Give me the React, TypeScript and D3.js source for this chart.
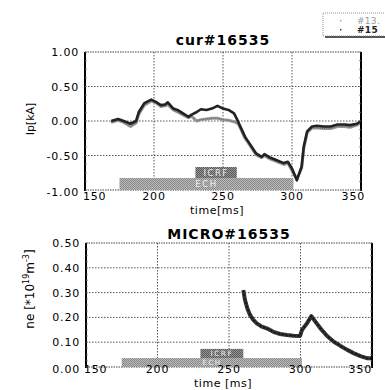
import * as d3 from 'd3';

// plasma current, two shots
const timeCur = [169, 174, 178, 183, 187, 189, 193, 198, 201, 205, 208, 210, 214, 217, 221, 225, 227, 231, 234, 238, 242, 246, 250, 254, 258, 261, 263, 266, 270, 274, 278, 280, 284, 289, 294, 297, 300, 303.5, 307, 308.5, 311, 314.5, 318, 323, 328, 333, 338, 342, 347, 350];
const ip15 = [0.0, 0.03, 0.0, -0.04, 0.0, 0.13, 0.26, 0.31, 0.28, 0.23, 0.24, 0.27, 0.18, 0.16, 0.11, 0.06, 0.09, 0.13, 0.17, 0.16, 0.18, 0.22, 0.18, 0.16, 0.11, -0.01, -0.1, -0.23, -0.35, -0.47, -0.52, -0.48, -0.53, -0.57, -0.61, -0.59, -0.69, -0.86, -0.66, -0.37, -0.15, -0.08, -0.07, -0.08, -0.08, -0.05, -0.05, -0.06, -0.04, 0.0];
const ip13 = [-0.02, 0.01, -0.02, -0.08, -0.03, 0.1, 0.23, 0.29, 0.27, 0.21, 0.22, 0.24, 0.16, 0.13, 0.09, 0.05, 0.07, 0.0, 0.02, 0.03, 0.04, 0.04, 0.02, 0.01, -0.01, -0.04, -0.12, -0.25, -0.37, -0.49, -0.53, -0.5, -0.55, -0.59, -0.63, -0.61, -0.72, -0.84, -0.68, -0.4, -0.17, -0.1, -0.1, -0.11, -0.11, -0.08, -0.08, -0.09, -0.06, -0.02];

// microwave density
const timeNe = [260, 261.2, 262.8, 264.7, 267, 269.4, 272.9, 276.4, 281, 285.8, 290.4, 295, 299.7, 301, 304.5, 307.6, 310.4, 313.9, 318.6, 323.3, 328, 332.7, 337.4, 342, 346.8, 349.6];
const ne = [0.31, 0.27, 0.237, 0.21, 0.19, 0.176, 0.163, 0.156, 0.142, 0.133, 0.129, 0.126, 0.125, 0.149, 0.176, 0.205, 0.183, 0.156, 0.125, 0.102, 0.085, 0.069, 0.055, 0.044, 0.035, 0.035];

// heating windows
const heatNames = ['ECH', 'ICRF'];
const heatStart = [175, 230];
const heatEnd = [301, 260];
const heatCurLow = [-1.0, -0.826];
const heatCurHigh = [-0.826, -0.667];
const heatNeLow = [0.0, 0.036];
const heatNeHigh = [0.036, 0.073];

const timeTicks = [150, 200, 250, 300, 350];
const curTicks = [1.0, 0.5, 0.0, -0.5, -1.0];
const neTicks = [0.5, 0.4, 0.3, 0.2, 0.1, 0.0];

const legendNames = ['#13.', '#15'];

const FONT = 'DejaVu Sans, Verdana, sans-serif';

type PanelProps = {
  x: d3.ScaleLinear<number, number>;
  y: d3.ScaleLinear<number, number>;
  yTicks: number[];
  title: string;
  titleY: number;
  xLabel: string;
  xLabelY: number;
  xLabelSize: number;
  tickY: number;
  yLabel: React.ReactNode;
  lastTickShift: number;
  bars: { name: string; t0: number; t1: number; lo: number; hi: number }[];
  children?: React.ReactNode;
};

function Panel({ x, y, yTicks, title, titleY, xLabel, xLabelY, xLabelSize, tickY, yLabel, lastTickShift, bars, children }: PanelProps) {
  const [x0, x1] = x.range();
  const [y0, y1] = y.range();
  const mid = (x0 + x1) / 2;
  const minor = d3.range(yTicks.length * 4).map((i) => y1 + ((y0 - y1) * i) / ((yTicks.length - 1) * 4)).filter((v) => v <= y0);
  return (
    <g>
      <text x={mid} y={titleY} textAnchor="middle" fontFamily={FONT} fontWeight="bold" fontSize={14} letterSpacing={1}>{title}</text>
      {/* grid */}
      {timeTicks.slice(1, -1).map((t) => (
        <line key={'gx' + t} x1={x(t)} x2={x(t)} y1={y1} y2={y0} stroke="#555" strokeWidth={1} strokeDasharray="1.5,1.5" />
      ))}
      {yTicks.slice(1, -1).map((v) => (
        <line key={'gy' + v} x1={x0} x2={x1} y1={y(v)} y2={y(v)} stroke="#555" strokeWidth={1} strokeDasharray="1.5,1.5" />
      ))}
      <line x1={x0} x2={x1} y1={y1} y2={y1} stroke="#444" strokeWidth={1.2} strokeDasharray="1.5,1" />
      <line x1={x0} x2={x1} y1={y0} y2={y0} stroke="#444" strokeWidth={1.2} strokeDasharray="1.5,1" />
      {/* heating bars */}
      {bars.map((b) => {
        const h = y(b.lo) - y(b.hi);
        const fs = Math.min(8.5, h * 0.8);
        return (
          <g key={b.name}>
            <rect x={x(b.t0)} y={y(b.hi)} width={x(b.t1) - x(b.t0)} height={h}
              fill={b.name === 'ECH' ? 'url(#checkLight)' : 'url(#checkDark)'} />
            <text x={(x(b.t0) + x(b.t1)) / 2} y={y(b.hi) + h / 2 + fs * 0.36} textAnchor="middle"
              fontFamily={FONT} fontSize={fs} letterSpacing={1.5} fill="#eee">{b.name}</text>
          </g>
        );
      })}
      {children}
      {/* frame */}
      <line x1={x0} x2={x0} y1={y1} y2={y0 + 1} stroke="#000" strokeWidth={2} />
      <line x1={x1} x2={x1} y1={y1} y2={y0 + 1} stroke="#000" strokeWidth={2} />
      {minor.map((m, i) => (
        <g key={'mt' + i}>
          <line x1={x0} x2={x0 + 2} y1={m} y2={m} stroke="#777" strokeWidth={0.8} />
          <line x1={x1 - 2} x2={x1} y1={m} y2={m} stroke="#777" strokeWidth={0.8} />
        </g>
      ))}
      {yTicks.map((v) => (
        <text key={'yl' + v} x={x0 - 6} y={y(v) + 4 + (v === yTicks[yTicks.length - 1] ? 2 : 0)} textAnchor="end"
          fontFamily={FONT} fontSize={11} letterSpacing={0.8}>{v.toFixed(2)}</text>
      ))}
      {timeTicks.map((t, i) => (
        <text key={'xl' + t} x={i === 0 ? x(t) - 2 : i === timeTicks.length - 1 ? x(t) + lastTickShift : x(t)}
          y={tickY}
          textAnchor={i === 0 ? 'start' : i === timeTicks.length - 1 ? 'end' : 'middle'}
          fontFamily={FONT} fontSize={11} letterSpacing={0.8}>{t}</text>
      ))}
      <text x={mid - 6} y={xLabelY} textAnchor="middle" fontFamily={FONT} fontSize={xLabelSize} letterSpacing={0.5}>{xLabel}</text>
      {yLabel}
    </g>
  );
}

export default function App() {
  const xCur = d3.scaleLinear().domain([150, 350]).range([85, 361]);
  const yCur = d3.scaleLinear().domain([-1, 1]).range([190, 52]);
  const xNe = d3.scaleLinear().domain([150, 350]).range([86, 372]);
  const yNe = d3.scaleLinear().domain([0, 0.5]).range([367, 243]);

  const curLine = (vals: number[]) =>
    d3.line<number>().x((_, i) => xCur(timeCur[i])).y((v) => yCur(v))(vals) ?? '';
  const neLine = d3.line<number>().x((_, i) => xNe(timeNe[i])).y((v) => yNe(v))(ne) ?? '';

  const curBars = heatNames.map((name, i) => ({ name, t0: heatStart[i], t1: heatEnd[i], lo: heatCurLow[i], hi: heatCurHigh[i] }));
  const neBars = heatNames.map((name, i) => ({ name, t0: heatStart[i], t1: heatEnd[i], lo: heatNeLow[i], hi: heatNeHigh[i] }));

  return (
    <svg width={385} height={390} style={{ position: 'absolute', left: 0, top: 0, background: '#fff' }}>
      <defs>
        <pattern id="checkLight" width={2} height={2} patternUnits="userSpaceOnUse">
          <rect width={2} height={2} fill="#bbb" />
          <rect width={1} height={1} fill="#888" />
          <rect x={1} y={1} width={1} height={1} fill="#888" />
        </pattern>
        <pattern id="checkDark" width={2} height={2} patternUnits="userSpaceOnUse">
          <rect width={2} height={2} fill="#999" />
          <rect width={1} height={1} fill="#555" />
          <rect x={1} y={1} width={1} height={1} fill="#555" />
        </pattern>
      </defs>

      {/* legend */}
      <g>
        <rect x={325} y={15} width={70} height={23} fill="#555" />
        <rect x={323} y={13} width={70} height={23} fill="#fff" stroke="#777" strokeWidth={0.8} strokeDasharray="1,1" />
        {legendNames.map((n, i) => (
          <g key={n}>
            <rect x={340} y={20 + i * 9} width={1.5} height={1.5} fill={i === 0 ? '#aaa' : '#444'} />
            <text x={357} y={24 + i * 9} fontFamily={FONT} fontSize={9} letterSpacing={0.3} fill={i === 0 ? '#999' : '#222'} fontWeight={i === 0 ? 'normal' : 'bold'}>{n}</text>
          </g>
        ))}
      </g>

      <Panel x={xCur} y={yCur} yTicks={curTicks} title="cur#16535" titleY={45} xLabel="time[ms]" xLabelY={214}
        xLabelSize={11} tickY={200} lastTickShift={4} bars={curBars}
        yLabel={<text transform="translate(34,119) rotate(-90)" textAnchor="middle" fontFamily={FONT} fontSize={11}>Ip[kA]</text>}>
        <path d={curLine(ip13)} fill="none" stroke="#999" strokeWidth={3} strokeLinejoin="round" />
        <path d={curLine(ip13)} fill="none" stroke="#666" strokeWidth={1} strokeDasharray="1,1" />
        <path d={curLine(ip15)} fill="none" stroke="#222" strokeWidth={2.6} strokeLinejoin="round" />
      </Panel>

      <Panel x={xNe} y={yNe} yTicks={neTicks} title="MICRO#16535" titleY={239} xLabel="time [ms]" xLabelY={386.5}
        xLabelSize={11} tickY={373} lastTickShift={0} bars={neBars}
        yLabel={
          <text transform="translate(34,289) rotate(-90)" textAnchor="middle" fontFamily={FONT} fontSize={12}>
            ne [*10<tspan fontSize={8} dy={-5}>19</tspan><tspan dy={5}>m</tspan><tspan fontSize={8} dy={-5}>-3</tspan><tspan dy={5}>]</tspan>
          </text>
        }>
        <path d={neLine} fill="none" stroke="#333" strokeWidth={4} strokeLinejoin="round" />
        <path d={neLine} fill="none" stroke="#111" strokeWidth={1.5} strokeDasharray="2,2" />
      </Panel>
    </svg>
  );
}
